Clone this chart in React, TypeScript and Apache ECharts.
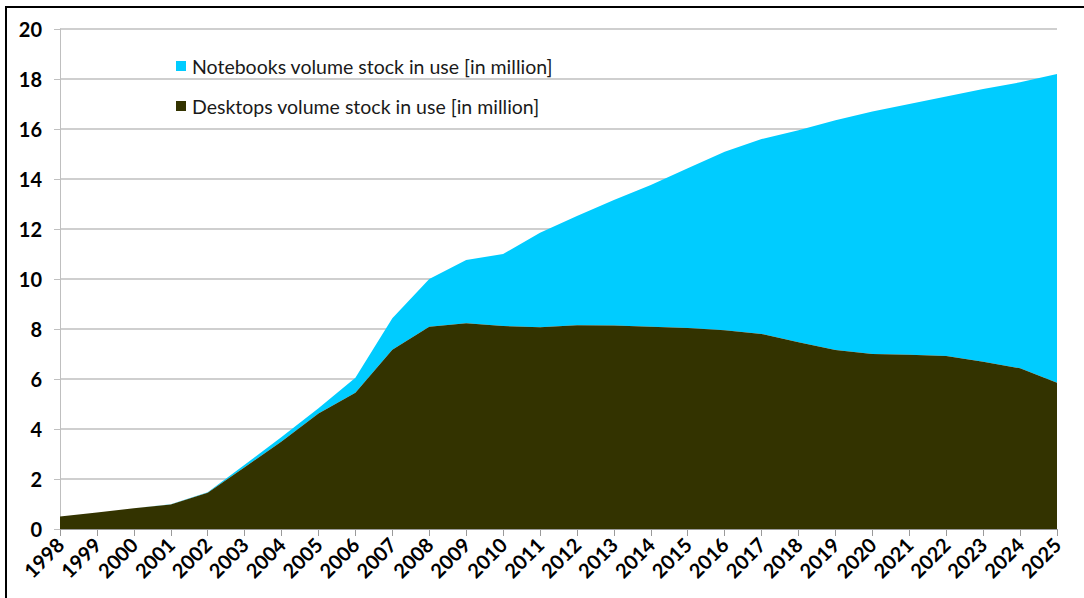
import React, { useEffect, useRef } from "react";
import * as echarts from "echarts";

const years = [
  "1998", "1999", "2000", "2001", "2002", "2003", "2004", "2005", "2006", "2007",
  "2008", "2009", "2010", "2011", "2012", "2013", "2014", "2015", "2016", "2017",
  "2018", "2019", "2020", "2021", "2022", "2023", "2024", "2025",
];

const desktops = [
  0.5, 0.66, 0.83, 0.98, 1.45, 2.47, 3.5, 4.62, 5.45, 7.17,
  8.09, 8.23, 8.12, 8.07, 8.15, 8.14, 8.09, 8.04, 7.95, 7.8,
  7.47, 7.16, 7.0, 6.97, 6.92, 6.69, 6.43, 5.85,
];

const notebooks = [
  0, 0, 0, 0.01, 0.02, 0.1, 0.18, 0.21, 0.6, 1.26,
  1.91, 2.53, 2.88, 3.78, 4.37, 5.02, 5.67, 6.39, 7.14, 7.8,
  8.48, 9.19, 9.7, 10.03, 10.38, 10.91, 11.44, 12.35,
];

const notebookName = "Notebooks volume stock in use [in million]";
const desktopName = "Desktops volume stock in use [in million]";

const FONT = "Lato, 'Liberation Sans', Arial, sans-serif";

export default function App() {
  const ref = useRef<HTMLDivElement>(null);

  useEffect(() => {
    if (!ref.current) return;
    const chart = echarts.init(ref.current, null, { renderer: "svg" });
    chart.setOption({
      animation: false,
      backgroundColor: "#ffffff",
      textStyle: { fontFamily: FONT },
      graphic: [
        {
          type: "rect",
          shape: { x: 6, y: 7, width: 1100, height: 620 },
          style: { fill: "none", stroke: "#000000", lineWidth: 2 },
          z: 100,
        },
      ],
      grid: { left: 60, right: 27, top: 29, bottom: 69, containLabel: false },
      legend: {
        orient: "vertical",
        left: 171,
        top: 51,
        itemWidth: 10,
        itemHeight: 10,
        itemGap: 20,
        icon: "rect",
        data: [notebookName, desktopName],
        textStyle: { fontSize: 19.5, color: "#1a1a1a", fontFamily: FONT, padding: [0, 0, 0, 1] },
      },
      xAxis: {
        type: "category",
        data: years,
        boundaryGap: false,
        axisLine: { lineStyle: { color: "#9a9a9a", width: 1 } },
        axisTick: { show: true, length: 7, lineStyle: { color: "#9a9a9a" } },
        axisLabel: {
          rotate: 45,
          interval: 0,
          fontSize: 20,
          fontWeight: "bold",
          color: "#000",
          margin: 12,
          fontFamily: FONT,
        },
        splitLine: { show: false },
      },
      yAxis: {
        type: "value",
        min: 0,
        max: 20,
        interval: 2,
        axisLine: { show: true, lineStyle: { color: "#bfbfbf", width: 1 } },
        axisTick: { show: true, length: 6, lineStyle: { color: "#bfbfbf" } },
        axisLabel: {
          fontSize: 20,
          fontWeight: "bold",
          color: "#000",
          margin: 18,
          fontFamily: FONT,
        },
        splitLine: { show: true, lineStyle: { color: "#bfbfbf", width: 1.5 } },
      },
      series: [
        {
          name: desktopName,
          type: "line",
          stack: "total",
          data: desktops,
          symbol: "none",
          lineStyle: { width: 0 },
          areaStyle: { color: "#333300", opacity: 1 },
          itemStyle: { color: "#333300" },
          z: 3,
        },
        {
          name: notebookName,
          type: "line",
          stack: "total",
          data: notebooks,
          symbol: "none",
          lineStyle: { width: 0 },
          areaStyle: { color: "#00ccff", opacity: 1 },
          itemStyle: { color: "#00ccff" },
          z: 2,
        },
      ],
    });
    return () => chart.dispose();
  }, []);

  return (
    <div
      ref={ref}
      style={{ position: "fixed", left: 0, top: 0, width: 1084, height: 598 }}
    />
  );
}
